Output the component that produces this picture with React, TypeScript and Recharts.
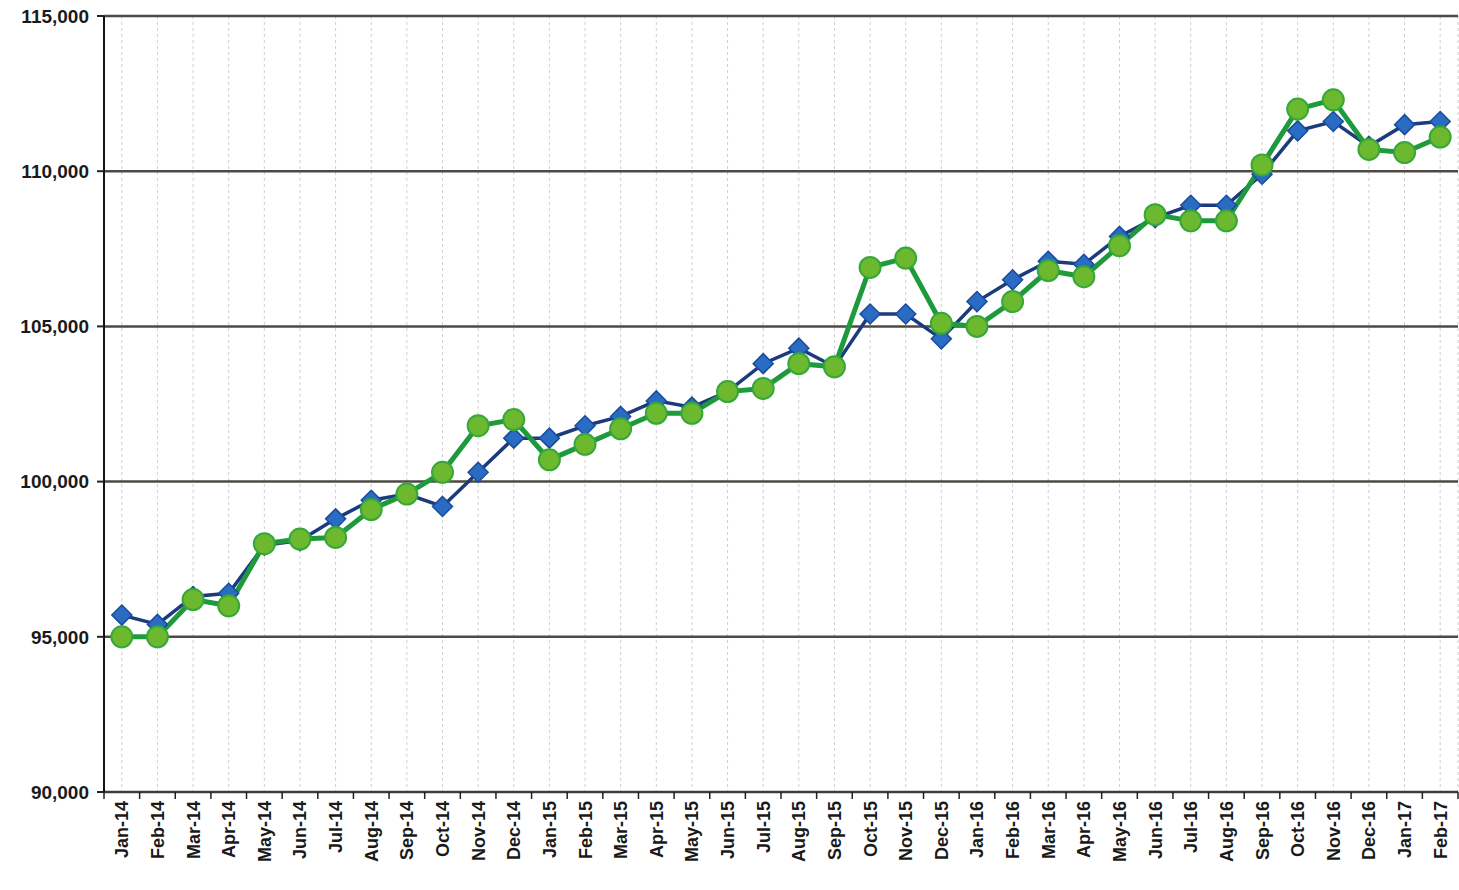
import React from 'react';
import { LineChart, Line, XAxis, YAxis, CartesianGrid } from 'recharts';

const months = [
  'Jan-14', 'Feb-14', 'Mar-14', 'Apr-14', 'May-14', 'Jun-14', 'Jul-14', 'Aug-14', 'Sep-14', 'Oct-14', 'Nov-14', 'Dec-14',
  'Jan-15', 'Feb-15', 'Mar-15', 'Apr-15', 'May-15', 'Jun-15', 'Jul-15', 'Aug-15', 'Sep-15', 'Oct-15', 'Nov-15', 'Dec-15',
  'Jan-16', 'Feb-16', 'Mar-16', 'Apr-16', 'May-16', 'Jun-16', 'Jul-16', 'Aug-16', 'Sep-16', 'Oct-16', 'Nov-16', 'Dec-16',
  'Jan-17', 'Feb-17',
];

const blueValues = [
  95700, 95400, 96300, 96400, 97950, 98100, 98800, 99400, 99600, 99200, 100300, 101400,
  101400, 101800, 102100, 102600, 102400, 102900, 103800, 104300, 103700, 105400, 105400, 104600,
  105800, 106500, 107100, 107000, 107900, 108500, 108900, 108900, 109900, 111300, 111600, 110800,
  111500, 111600,
];

const greenValues = [
  95000, 95000, 96200, 96000, 98000, 98150, 98200, 99100, 99600, 100300, 101800, 102000,
  100700, 101200, 101700, 102200, 102200, 102900, 103000, 103800, 103700, 106900, 107200, 105100,
  105000, 105800, 106800, 106600, 107600, 108600, 108400, 108400, 110200, 112000, 112300, 110700,
  110600, 111100,
];

const yTicks = [90000, 95000, 100000, 105000, 110000, 115000];

const data = months.map((m, i) => ({ month: m, blue: blueValues[i], green: greenValues[i] }));

const W = 1459;
const H = 890;
const LEFT = 104;
const RIGHT_MARGIN = 1;
const TOP = 16;
const XAXIS_H = 98;
const BAND = (W - LEFT - RIGHT_MARGIN) / months.length;
const FONT = '"Liberation Sans", Arial, sans-serif';

const XTick = (props: any) => {
  const { x, y, payload, index } = props;
  const isLast = index === months.length - 1;
  return (
    <g>
      <line x1={x - BAND / 2} x2={x - BAND / 2} y1={y} y2={y + 7} stroke="#222" strokeWidth={1.5} />
      {isLast && <line x1={x + BAND / 2} x2={x + BAND / 2} y1={y} y2={y + 7} stroke="#222" strokeWidth={1.5} />}
      <g transform={`translate(${x},${y})`}>
        <text
          transform="rotate(-90)"
          x={-9}
          y={0}
          dy={6.5}
          textAnchor="end"
          fontFamily={FONT}
          fontWeight="bold"
          fontSize={18}
          fill="#1a1a1a"
        >
          {payload.value}
        </text>
      </g>
    </g>
  );
};

const Diamond = (props: any) => {
  const { cx, cy, index } = props;
  if (cx == null || cy == null) return <g key={`d-${index}`} />;
  const s = 10;
  return (
    <path
      key={`d-${index}`}
      d={`M${cx},${cy - s} L${cx + s},${cy} L${cx},${cy + s} L${cx - s},${cy} Z`}
      fill="#2a6cc4"
      stroke="#1b4c98"
      strokeWidth={1.5}
    />
  );
};

const Circle = (props: any) => {
  const { cx, cy, index } = props;
  if (cx == null || cy == null) return <g key={`c-${index}`} />;
  return <circle key={`c-${index}`} cx={cx} cy={cy} r={10.5} fill="#6cb82e" stroke="#36a83a" strokeWidth={2} />;
};

export default function App() {
  return (
    <div style={{ position: 'absolute', left: 0, top: 0, width: W, height: H, background: '#ffffff' }}>
      <LineChart
        width={W}
        height={H}
        data={data}
        margin={{ top: TOP, right: RIGHT_MARGIN, bottom: 0, left: 0 }}
      >
        <CartesianGrid vertical={true} horizontal={false} stroke="#cfcfcf" strokeDasharray="3 3" />
        <CartesianGrid vertical={false} horizontal={true} stroke="#4e4943" strokeWidth={2.5} />
        <XAxis
          dataKey="month"
          interval={0}
          height={XAXIS_H}
          padding={{ left: BAND / 2, right: BAND / 2 }}
          tickLine={false}
          tickSize={0}
          tickMargin={0}
          axisLine={{ stroke: '#3c3c3c', strokeWidth: 2 }}
          tick={<XTick />}
        />
        <YAxis
          width={LEFT}
          domain={[90000, 115000]}
          ticks={yTicks}
          interval={0}
          tickSize={7}
          tickMargin={8}
          tickLine={{ stroke: '#222', strokeWidth: 2 }}
          axisLine={{ stroke: '#111', strokeWidth: 2 }}
          tickFormatter={(v: number) => v.toLocaleString('en-US')}
          tick={{ fontFamily: FONT, fontWeight: 'bold', fontSize: 19, fill: '#1a1a1a' }}
        />
        <Line
          type="linear"
          dataKey="blue"
          stroke="#1c3b7e"
          strokeWidth={3.5}
          dot={<Diamond />}
          activeDot={false}
          isAnimationActive={false}
        />
        <Line
          type="linear"
          dataKey="green"
          stroke="#1e9a3c"
          strokeWidth={5}
          dot={<Circle />}
          activeDot={false}
          isAnimationActive={false}
        />
      </LineChart>
    </div>
  );
}
